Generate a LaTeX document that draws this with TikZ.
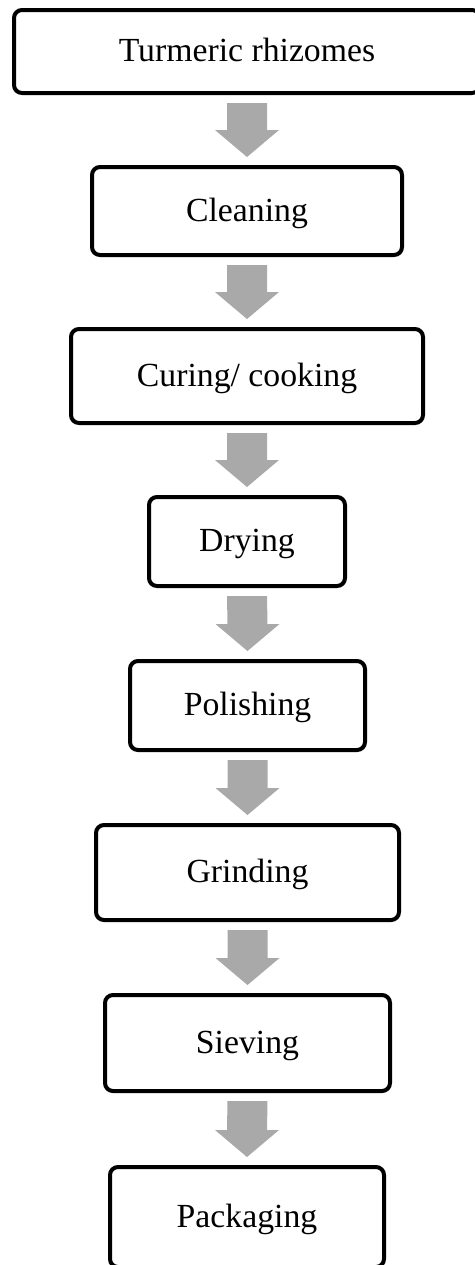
\documentclass[tikz,border=0pt]{standalone}
\usepackage{fontspec}
\setmainfont{Liberation Serif}
\usetikzlibrary{calc}
\definecolor{arrowgray}{RGB}{169,169,169}
\tikzset{
  stepbox/.style 2 args={draw=black, line width=3pt, rounded corners=6pt,
    fill=white, inner sep=0pt, align=center,
    font=\fontsize{25.3pt}{30pt}\selectfont,
    text height=20pt, text depth=5pt,
    minimum width=#1*0.75pt, minimum height=#2*0.75pt},
  flowfill/.style={fill=arrowgray, draw=none}
}
\newcommand{\flowarrow}[2]{%
  \path (#1.south) ++(0,8) coordinate (#1-s);
  \path (#2.north) ++(0,-8) coordinate (#2-e);
  \fill[flowfill] ($(#1-s)+(-20,0)$) -- ($(#1-s)+(20,0)$) --
    ($(#2-e)+(20,-27)$) -- ($(#2-e)+(32,-27)$) -- (#2-e) --
    ($(#2-e)+(-32,-27)$) -- ($(#2-e)+(-20,-27)$) -- cycle;
}
\begin{document}
\begin{tikzpicture}[x=0.75pt,y=-0.75pt]
  \useasboundingbox (0,0) rectangle (475,1265);
  \clip (0,0) rectangle (475,1265);
  \fill[white] (0,0) rectangle (475,1265);
  \node[stepbox={466}{83}] (n1) at (247,51.5) {Turmeric rhizomes};
  \node[stepbox={310}{88}] (n2) at (247,211) {Cleaning};
  \node[stepbox={352}{94}] (n3) at (247,376) {Curing/ cooking};
  \node[stepbox={196}{89}] (n4) at (247,541.5) {Drying};
  \node[stepbox={235}{89}] (n5) at (247.5,705.5) {Polishing};
  \node[stepbox={303}{95}] (n6) at (247.5,872.5) {Grinding};
  \node[stepbox={285}{96}] (n7) at (247.5,1043) {Sieving};
  \node[stepbox={274}{100}] (n8) at (247,1217) {Packaging};
  \flowarrow{n1}{n2}
  \flowarrow{n2}{n3}
  \flowarrow{n3}{n4}
  \flowarrow{n4}{n5}
  \flowarrow{n5}{n6}
  \flowarrow{n6}{n7}
  \flowarrow{n7}{n8}
\end{tikzpicture}
\end{document}
